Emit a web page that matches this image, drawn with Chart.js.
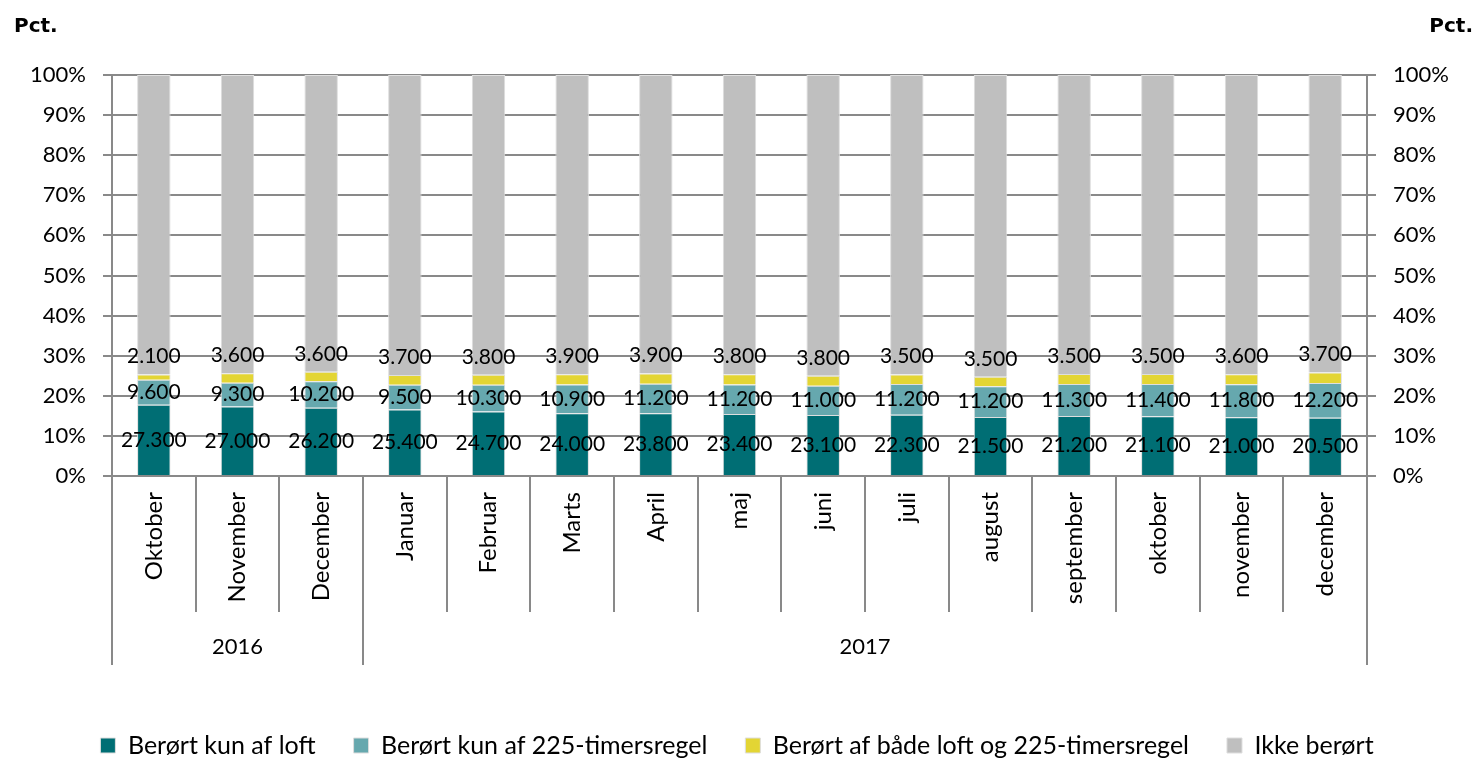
<!DOCTYPE html>
<html><head><meta charset="utf-8">
<script src="https://cdn.jsdelivr.net/npm/chart.js@4.4.1/dist/chart.umd.min.js"></script>
<style>html,body{margin:0;padding:0;background:#fff;}#wrap{width:1474px;height:758px;position:relative;}</style>
</head><body><div id="wrap"><canvas id="c" width="1474" height="758"></canvas></div>
<script>
const months = ['Oktober','November','December','Januar','Februar','Marts','April','maj','juni','juli','august','september','oktober','november','december'];
const yearLabels = ['2016','2017'];
const yearStart = [0, 3];
const yearEnd = [2, 14];
const seriesNames = ['Berørt kun af loft','Berørt kun af 225-timersregel','Berørt af både loft og 225-timersregel','Ikke berørt'];
const kunLoft = [27300,27000,26200,25400,24700,24000,23800,23400,23100,22300,21500,21200,21100,21000,20500];
const kun225 = [9600,9300,10200,9500,10300,10900,11200,11200,11000,11200,11200,11300,11400,11800,12200];
const begge = [2100,3600,3600,3700,3800,3900,3900,3800,3800,3500,3500,3500,3500,3600,3700];
const ikkeBerort = [114900,116000,113900,114800,114900,114300,113100,113100,113800,109000,110100,105700,105700,106900,104500];
const yTickValues = [0,10,20,30,40,50,60,70,80,90,100];
const colors = ['#006e74','#66a8ae','#e3d534','#bfbfbf'];

const raw = [kunLoft, kun225, begge, ikkeBerort];
const totals = months.map((m,i)=>raw.reduce((s,a)=>s+a[i],0));
const fmt = n => String(n).replace(/\B(?=(\d{3})+(?!\d))/g,'.');
const GRID = '#898989';
const FONT = 'Lato';

const datasets = raw.map((arr,d)=>({
  label: seriesNames[d],
  data: arr.map((v,i)=>v/totals[i]*100),
  raw: arr,
  backgroundColor: colors[d],
  borderColor: '#dedede',
  borderWidth: 1,
  barPercentage: 0.4,
  categoryPercentage: 1.0
}));

const extras = {
  id: 'extras',
  afterDatasetsDraw(chart){
    const ctx = chart.ctx;
    ctx.save();
    ctx.font = '21px ' + FONT;
    ctx.fillStyle = '#000';
    ctx.textAlign = 'center';
    ctx.textBaseline = 'middle';
    [0,1,2].forEach(d=>{
      const meta = chart.getDatasetMeta(d);
      meta.data.forEach((el,i)=>{
        const y = d===2 ? el.y - 18 : (el.y + el.base)/2;
        ctx.fillText(fmt(chart.data.datasets[d].raw[i]), el.x, y);
      });
    });
    ctx.restore();
  },
  afterDraw(chart){
    const ctx = chart.ctx;
    const xs = chart.scales.x;
    const ca = chart.chartArea;
    const n = months.length;
    const bound = i => i===0 ? ca.left : i===n ? ca.right : (xs.getPixelForValue(i-1)+xs.getPixelForValue(i))/2;
    ctx.save();
    ctx.strokeStyle = GRID;
    ctx.lineWidth = 2;
    const longIdx = yearStart.concat([n]);
    for(let i=0;i<=n;i++){
      const x = Math.round(bound(i));
      const long = longIdx.includes(i);
      ctx.beginPath();
      ctx.moveTo(x, ca.bottom);
      ctx.lineTo(x, ca.bottom + (long ? 189 : 136));
      ctx.stroke();
    }
    ctx.fillStyle = '#000';
    ctx.font = '22px ' + FONT;
    ctx.textAlign = 'center';
    ctx.textBaseline = 'middle';
    yearLabels.forEach((y,k)=>{
      const x = (bound(yearStart[k]) + bound(yearEnd[k]+1))/2;
      ctx.fillText(y, x, ca.bottom + 171);
    });
    ctx.font = 'bold 20px "DejaVu Sans"';
    ctx.textBaseline = 'alphabetic';
    ctx.textAlign = 'left';
    ctx.fillText('Pct.', 14, 32);
    ctx.textAlign = 'right';
    ctx.fillText('Pct.', 1473, 32);
    ctx.restore();
  }
};

const yTicksCfg = {
  min: 0, max: 100,
  afterBuildTicks(s){ s.ticks = yTickValues.map(v=>({value:v})); },
  ticks: { callback: v => Math.round(v) + '%', padding: 17, color: '#000', font: {size: 22, family: FONT} }
};

new Chart(document.getElementById('c'), {
  type: 'bar',
  data: { labels: months, datasets },
  options: {
    responsive: false,
    animation: false,
    devicePixelRatio: 1,
    layout: { padding: { top: 75, bottom: -10, left: 0, right: 0 } },
    plugins: {
      legend: {
        position: 'bottom',
        labels: { boxWidth: 15, boxHeight: 15, padding: 38, color: '#000', font: {size: 25, family: FONT} }
      },
      tooltip: { enabled: false }
    },
    scales: {
      x: {
        stacked: true,
        offset: true,
        grid: { display: false, drawTicks: false },
        border: { display: false },
        ticks: { maxRotation: 90, minRotation: 90, autoSkip: false, padding: 16, color: '#000', font: {size: 24, family: FONT} },
        afterFit(s){ s.height = 219; }
      },
      y: Object.assign({}, yTicksCfg, {
        stacked: true,
        position: 'left',
        grid: { color: GRID, lineWidth: 2, drawTicks: true, tickLength: 9 },
        border: { display: true, color: GRID, width: 2 },
        afterFit(s){ s.width = 112; }
      }),
      y2: Object.assign({}, yTicksCfg, {
        position: 'right',
        grid: { color: GRID, lineWidth: 2, drawOnChartArea: false, drawTicks: true, tickLength: 9 },
        border: { display: true, color: GRID, width: 2 },
        afterFit(s){ s.width = 107; }
      })
    }
  },
  plugins: [extras]
});
</script></body></html>
